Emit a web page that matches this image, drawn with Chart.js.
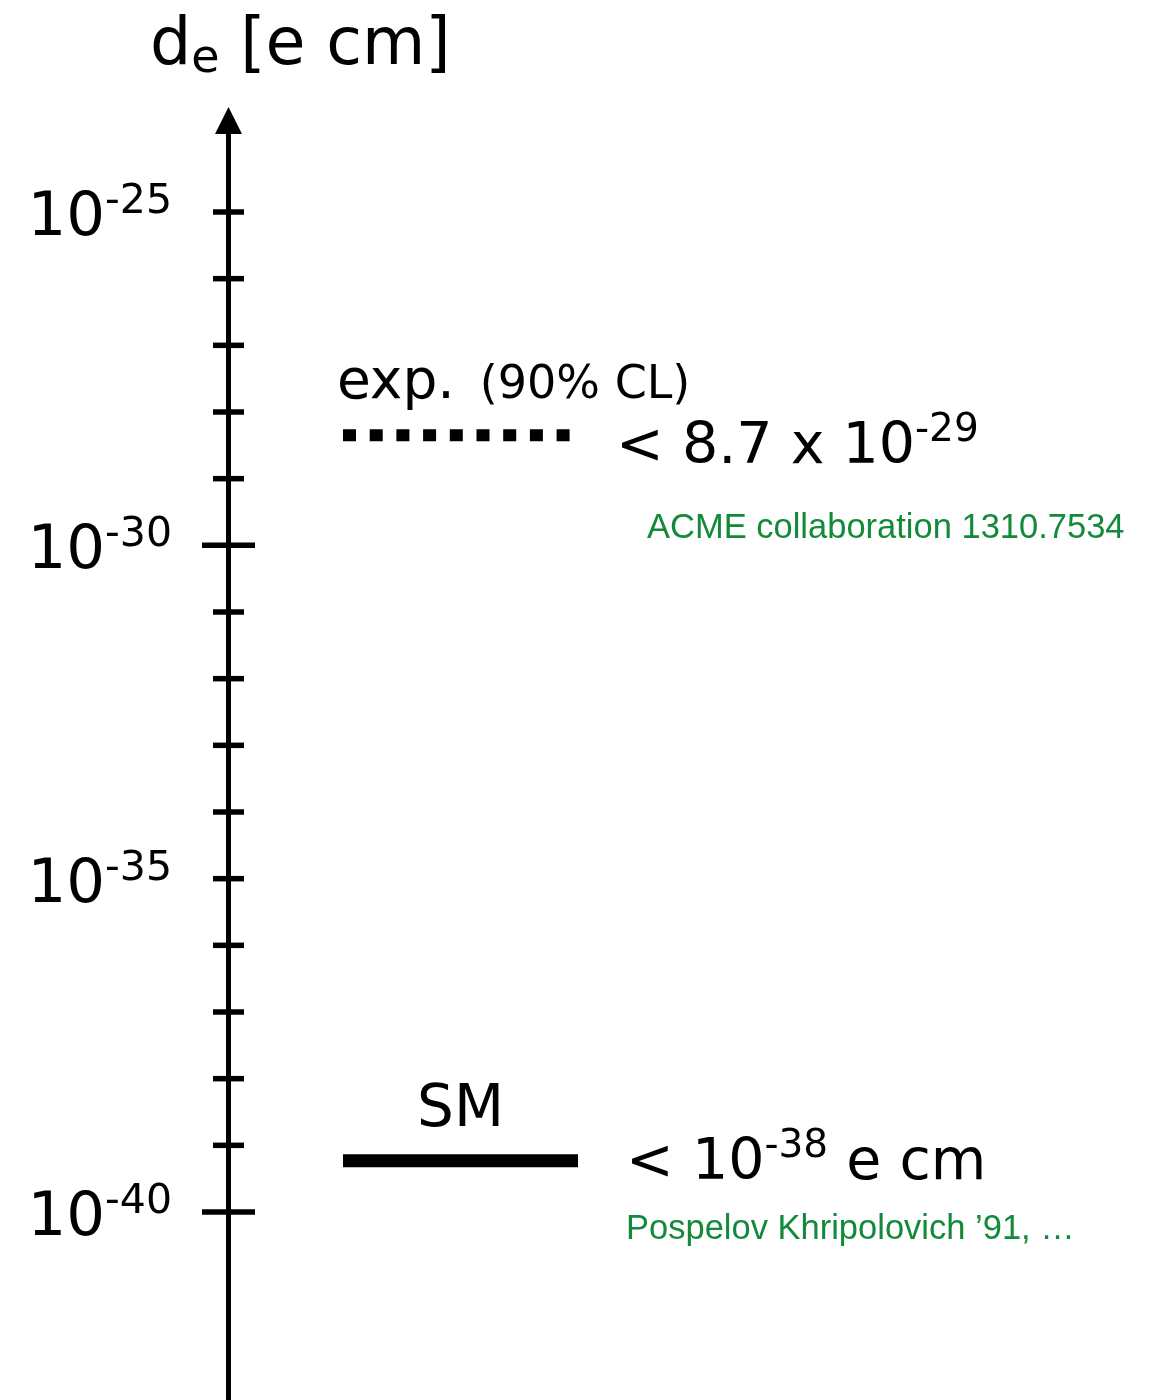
<!DOCTYPE html>
<html>
<head>
<meta charset="utf-8">
<title>Electron EDM</title>
<script src="https://cdn.jsdelivr.net/npm/chart.js@4"></script>
<style>
  html, body { margin: 0; padding: 0; background: #fff; }
  canvas { display: block; }
</style>
</head>
<body>
<canvas id="edmChart" width="1160" height="1400"></canvas>
<script>
// Данные: показатели степени 10 (e cm)
const tickExponents = [-25, -26, -27, -28, -29, -30, -31, -32, -33, -34, -35, -36, -37, -38, -39, -40];
const labelExponents = [-25, -30, -35, -40];
const longTickExponents = [-30, -40];
const limitNames = ['exp.', 'SM'];
const limitExponents = [-28.35, -39.23];
const limitSpan = [0, 1];
const expValueText = ['< 8.7 x 10', '-29'];
const smValueText = ['< 10', '-38', ' e cm'];
const acmeRef = 'ACME collaboration 1310.7534';
const smRef = 'Pospelov Khripolovich \u201991, \u2026';

const FONT = '"DejaVu Sans", Verdana, sans-serif';
const REF_FONT = '"Liberation Sans", Arial, sans-serif';
const GREEN = '#13893a';

// Текст с верхними/нижними индексами
function drawRich(ctx, x, y, parts, align) {
  let w = 0;
  parts.forEach(p => { ctx.font = p.font; p.w = ctx.measureText(p.t).width; w += p.w; });
  let cx = align === 'right' ? x - w : (align === 'center' ? x - w / 2 : x);
  parts.forEach(p => {
    ctx.font = p.font;
    ctx.fillText(p.t, cx + (p.dx || 0), y + (p.dy || 0));
    cx += p.w + (p.dx || 0);
  });
}

const axisPlugin = {
  id: 'edmAxis',
  afterDraw(chart) {
    const ctx = chart.ctx;
    const ys = chart.scales.y;
    const area = chart.chartArea;
    const axisX = 228.5;
    const top = ys.getPixelForValue(-25) - 105;

    ctx.save();
    ctx.fillStyle = '#000';
    ctx.strokeStyle = '#000';
    ctx.textAlign = 'left';
    ctx.textBaseline = 'alphabetic';

    // ось
    ctx.lineWidth = 5;
    ctx.beginPath();
    ctx.moveTo(axisX, top + 22);
    ctx.lineTo(axisX, chart.height);
    ctx.stroke();

    // стрелка
    ctx.beginPath();
    ctx.moveTo(axisX, top);
    ctx.lineTo(axisX - 13.5, top + 27);
    ctx.lineTo(axisX + 13.5, top + 27);
    ctx.closePath();
    ctx.fill();

    // деления
    ctx.lineWidth = 5.5;
    tickExponents.forEach(e => {
      const py = ys.getPixelForValue(e);
      const half = longTickExponents.includes(e) ? 26.5 : 15.5;
      ctx.beginPath();
      ctx.moveTo(axisX - half, py);
      ctx.lineTo(axisX + half, py);
      ctx.stroke();
    });

    // подписи делений
    labelExponents.forEach(e => {
      const py = ys.getPixelForValue(e);
      drawRich(ctx, 172, py + 23, [
        { t: '10', font: '61px ' + FONT },
        { t: String(e), font: '41px ' + FONT, dy: -22 }
      ], 'right');
    });

    // заголовок оси
    drawRich(ctx, 150, 64, [
      { t: 'd', font: '65px ' + FONT },
      { t: 'e', font: '46px ' + FONT, dy: 8 },
      { t: ' [e cm]', font: '65px ' + FONT }
    ], 'left');

    // экспериментальный предел
    const yExp = ys.getPixelForValue(limitExponents[0]);
    drawRich(ctx, area.left - 6, yExp - 37, [
      { t: limitNames[0], font: '55px ' + FONT },
      { t: '(90% CL)', font: '46px ' + FONT, dx: 25 }
    ], 'left');
    drawRich(ctx, area.right + 38, yExp + 28, [
      { t: expValueText[0], font: '57px ' + FONT },
      { t: expValueText[1], font: '39px ' + FONT, dy: -22 }
    ], 'left');

    // SM
    const ySm = ys.getPixelForValue(limitExponents[1]);
    drawRich(ctx, (area.left + area.right) / 2, ySm - 35, [
      { t: limitNames[1], font: '58px ' + FONT }
    ], 'center');
    drawRich(ctx, area.right + 48, ySm + 18, [
      { t: smValueText[0], font: '57px ' + FONT },
      { t: smValueText[1], font: '39px ' + FONT, dy: -22 },
      { t: smValueText[2], font: '57px ' + FONT }
    ], 'left');

    // ссылки
    ctx.fillStyle = GREEN;
    drawRich(ctx, 647, yExp + 103, [{ t: acmeRef, font: '34.5px ' + REF_FONT }], 'left');
    drawRich(ctx, 626, ySm + 78, [{ t: smRef, font: '34.5px ' + REF_FONT }], 'left');

    ctx.restore();
  }
};

const ctx = document.getElementById('edmChart');

new Chart(ctx, {
  type: 'line',
  data: {
    datasets: [
      {
        label: limitNames[0],
        data: limitSpan.map(x => ({ x: x, y: limitExponents[0] })),
        borderColor: '#000',
        borderWidth: 12,
        borderDash: [13, 13.7],
        borderCapStyle: 'butt',
        pointRadius: 0,
        fill: false
      },
      {
        label: limitNames[1],
        data: limitSpan.map(x => ({ x: x, y: limitExponents[1] })),
        borderColor: '#000',
        borderWidth: 13,
        borderCapStyle: 'butt',
        pointRadius: 0,
        fill: false
      }
    ]
  },
  options: {
    responsive: false,
    animation: false,
    layout: {
      autoPadding: false,
      padding: { left: 343, right: 582, top: 0, bottom: 0 }
    },
    plugins: {
      legend: { display: false },
      tooltip: { enabled: false }
    },
    scales: {
      x: { type: 'linear', min: 0, max: 1, display: false },
      y: { type: 'linear', min: -42.82, max: -21.82, display: false }
    }
  },
  plugins: [axisPlugin]
});
</script>
</body>
</html>
